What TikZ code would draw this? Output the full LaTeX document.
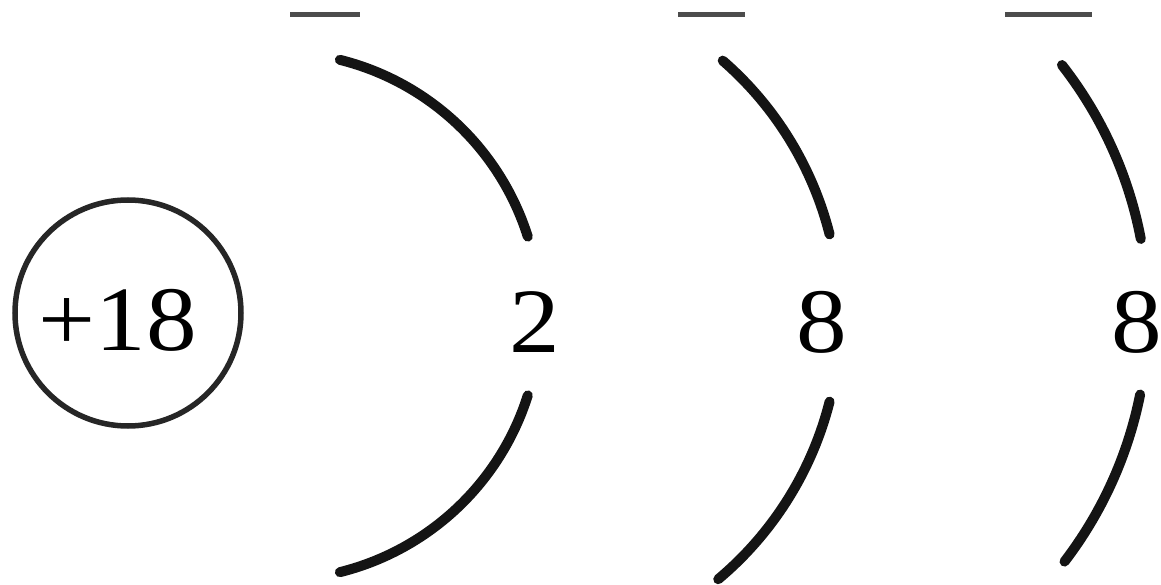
\documentclass[tikz,border=0pt]{standalone}
\usepackage{fontspec}
\setmainfont{Liberation Serif}
\begin{document}
\begin{tikzpicture}[x=1pt,y=1pt,
  shell/.style={line width=10pt, line cap=round, black!92},
  topbar/.style={line width=5pt, black!70},
  num/.style={font=\fontsize{92}{92}\selectfont, inner sep=0pt, xscale=1.1},
  nucleus/.style={circle, draw, line width=5.5pt, minimum size=226pt, inner sep=0pt, black!85}
]
\useasboundingbox (0,0) rectangle (1161,584);
\node[nucleus] (nuc) at (128,271) {};
\node[num] (z) at (118,264) {+18};
\coordinate (c1) at (276,268);
\coordinate (c2) at (499,266);
\coordinate (c3) at (742,269);
\draw[shell] ([shift={(76:264)}]c1) arc[start angle=76, end angle=17.5, radius=264];
\draw[shell] ([shift={(-17.5:264)}]c1) arc[start angle=-17.5, end angle=-76, radius=264];
\draw[shell] ([shift={(49:341)}]c2) arc[start angle=49, end angle=14.2, radius=341];
\draw[shell] ([shift={(-14.2:341)}]c2) arc[start angle=-14.2, end angle=-50, radius=341];
\draw[shell] ([shift={(38:406)}]c3) arc[start angle=38, end angle=10.8, radius=406];
\draw[shell] ([shift={(-11.3:406)}]c3) arc[start angle=-11.3, end angle=-37.4, radius=406];
\node[num] (n1) at (535,262) {2};
\node[num] (n2) at (822,262) {8};
\node[num] (n3) at (1137,262) {8};
\coordinate (t1a) at (290,569); \coordinate (t1b) at (360,569);
\coordinate (t2a) at (678,569); \coordinate (t2b) at (745,569);
\coordinate (t3a) at (1005,569); \coordinate (t3b) at (1092,569);
\draw[topbar] (t1a) -- (t1b);
\draw[topbar] (t2a) -- (t2b);
\draw[topbar] (t3a) -- (t3b);
\end{tikzpicture}
\end{document}
